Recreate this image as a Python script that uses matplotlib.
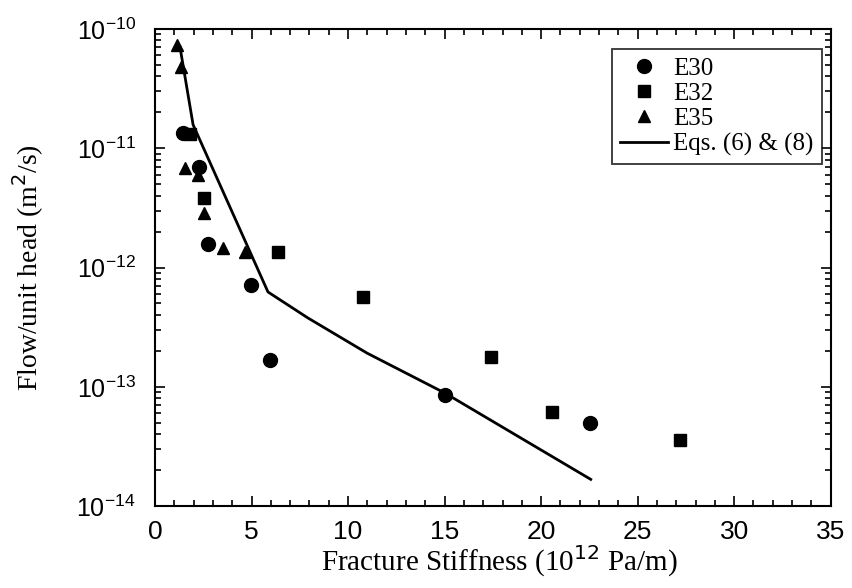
import numpy as np
import matplotlib
matplotlib.use("Agg")
import matplotlib.pyplot as plt
from matplotlib.ticker import MultipleLocator, LogLocator, NullFormatter

# data
e30_x = [1.45, 2.28, 2.74, 4.97, 5.95, 15.02, 22.52]
e30_y = [1.34e-11, 6.97e-12, 1.57e-12, 7.13e-13, 1.67e-13, 8.5e-14, 4.97e-14]

e32_x = [1.81, 2.54, 6.37, 10.77, 17.40, 20.56, 27.18]
e32_y = [1.32e-11, 3.83e-12, 1.35e-12, 5.66e-13, 1.77e-13, 6.13e-14, 3.57e-14]

e35_x = [1.14, 1.35, 1.55, 2.23, 2.54, 3.52, 4.66]
e35_y = [7.34e-11, 4.8e-11, 6.82e-12, 5.97e-12, 2.86e-12, 1.46e-12, 1.35e-12]

eq_x = [1.29, 1.97, 5.85, 7.92, 10.98, 15.02, 22.57]
eq_y = [7.06e-11, 1.57e-11, 6.24e-13, 3.78e-13, 1.92e-13, 8.87e-14, 1.68e-14]

y_ticks = [1e-14, 1e-13, 1e-12, 1e-11, 1e-10]

serif = ['Liberation Serif', 'DejaVu Serif']
sans = ['Liberation Sans', 'DejaVu Sans']

fig = plt.figure(figsize=(8.52, 5.88), dpi=100)
ax = fig.add_axes([0.182, 0.139, 0.793, 0.812])

ax.plot(e30_x, e30_y, 'o', color='black', markersize=10, label='E30')
ax.plot(e32_x, e32_y, 's', color='black', markersize=9, label='E32')
ax.plot(e35_x, e35_y, '^', color='black', markersize=8, label='E35')
ax.plot(eq_x, eq_y, '-', color='black', linewidth=2, label='Eqs. (6) & (8)')

ax.set_yscale('log')
ax.set_xlim(0, 35)
ax.set_ylim(1e-14, 1e-10)
ax.xaxis.set_major_locator(MultipleLocator(5))
ax.xaxis.set_minor_locator(MultipleLocator(1))
ax.set_yticks(y_ticks)
ax.yaxis.set_minor_locator(LogLocator(base=10, subs=np.arange(2, 10), numticks=10))
ax.yaxis.set_minor_formatter(NullFormatter())

ax.tick_params(which='both', direction='in', top=True, right=True, width=1.2)
ax.tick_params(which='major', length=7)
ax.tick_params(which='minor', length=4)
ax.tick_params(axis='x', labelsize=19, pad=10)
ax.tick_params(axis='y', labelsize=18, pad=14)
for lab in ax.get_xticklabels() + ax.get_yticklabels():
    lab.set_family(sans)
for s in ax.spines.values():
    s.set_linewidth(1.5)

ax.set_xlabel('Fracture Stiffness (10$^{12}$ Pa/m)', family=serif, fontsize=21)
ax.xaxis.set_label_coords(0.51, -0.078)
ax.set_ylabel('Flow/unit head (m$^2$/s)', family=serif, fontsize=20)
ax.yaxis.set_label_coords(-0.162, 0.5)

leg = ax.legend(loc='upper right', bbox_to_anchor=(0.987, 0.958), borderaxespad=0,
                prop={'family': serif, 'size': 18},
                frameon=True, fancybox=False, edgecolor='black',
                handlelength=1.9, handletextpad=0.2, labelspacing=0.1,
                borderpad=0.35, numpoints=1)
leg.get_frame().set_linewidth(1.3)

fig.savefig('out.png', dpi=100)
